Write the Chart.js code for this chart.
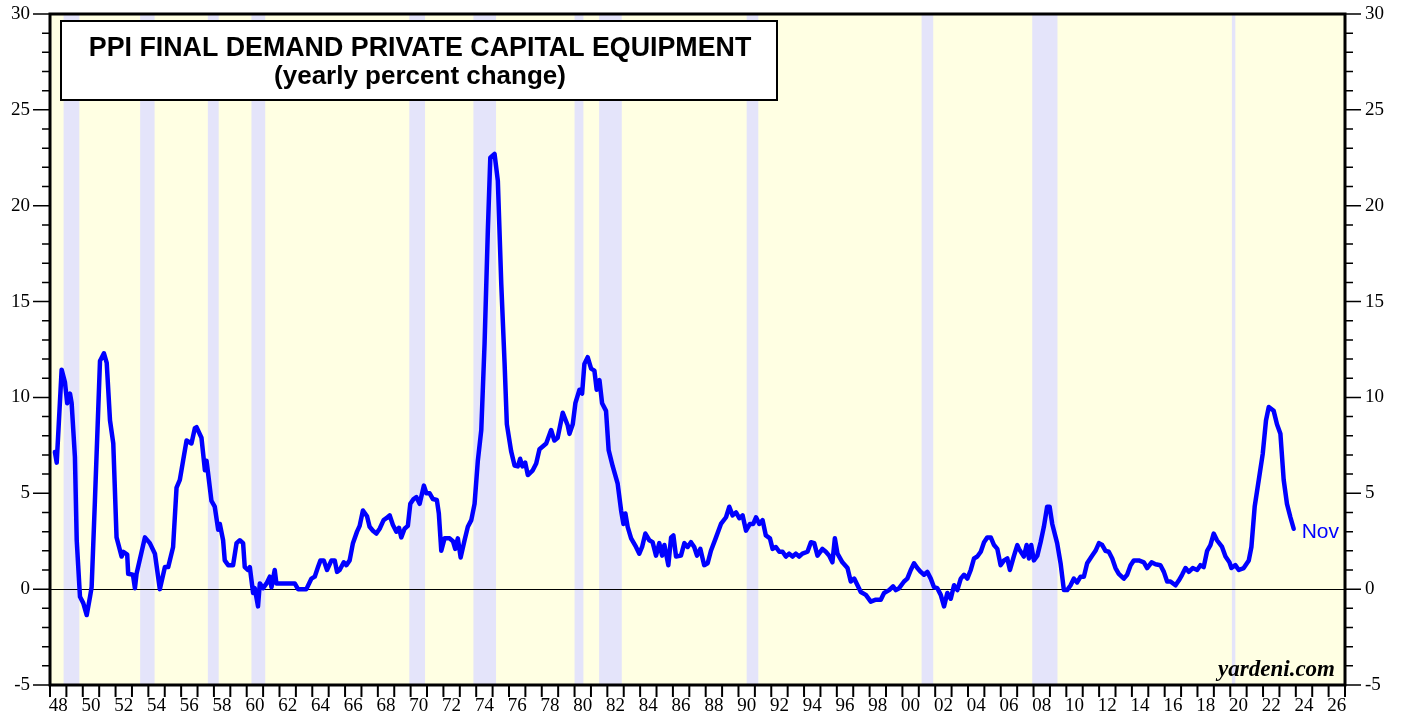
<!DOCTYPE html>
<html>
<head>
<meta charset="utf-8">
<script src="https://cdn.jsdelivr.net/npm/chart.js@4/dist/chart.umd.min.js"></script>
<style>
  html, body { margin: 0; padding: 0; background: #ffffff; }
  #wrap { width: 1405px; height: 717px; position: relative; }
</style>
</head>
<body>
<div id="wrap"><canvas id="c" width="1405" height="717"></canvas></div>
<script>
// ---- Data (decimal year, yearly % change) ----
const dates = [
  1948.30,1948.41,1948.71,1948.91,1949.05,1949.22,1949.32,1949.52,1949.63,1949.83,
  1950.03,1950.24,1950.44,1950.54,1950.74,1951.05,1951.29,1951.46,1951.66,1951.86,
  1952.06,1952.37,1952.47,1952.71,1952.77,1953.06,1953.18,1953.28,1953.79,1954.09,
  1954.40,1954.70,1955.01,1955.21,1955.51,1955.72,1955.92,1956.12,1956.33,1956.63,
  1956.84,1956.94,1957.24,1957.45,1957.55,1957.65,1957.85,1958.05,1958.26,1958.36,
  1958.56,1958.66,1958.87,1959.17,1959.38,1959.58,1959.78,1959.88,1960.08,1960.19,
  1960.39,1960.49,1960.69,1960.80,1961.00,1961.21,1961.41,1961.51,1961.71,1961.81,
  1962.93,1963.13,1963.64,1963.95,1964.15,1964.35,1964.50,1964.70,1964.90,1965.17,
  1965.37,1965.51,1965.67,1965.92,1966.08,1966.28,1966.48,1966.73,1966.89,1967.09,
  1967.34,1967.50,1967.70,1967.91,1968.11,1968.35,1968.52,1968.72,1968.92,1969.13,
  1969.29,1969.43,1969.63,1969.83,1969.98,1970.18,1970.35,1970.55,1970.81,1970.96,
  1971.16,1971.36,1971.60,1971.72,1971.87,1972.07,1972.38,1972.58,1972.72,1972.88,
  1973.05,1973.29,1973.49,1973.70,1973.90,1974.10,1974.31,1974.51,1974.71,1974.86,
  1975.12,1975.32,1975.53,1975.73,1975.87,1976.13,1976.34,1976.54,1976.68,1976.82,
  1976.99,1977.15,1977.45,1977.66,1977.86,1978.27,1978.57,1978.77,1978.97,1979.28,
  1979.58,1979.69,1979.89,1980.05,1980.30,1980.46,1980.60,1980.80,1981.01,1981.21,
  1981.35,1981.52,1981.68,1981.92,1982.08,1982.33,1982.63,1982.84,1982.98,1983.10,
  1983.24,1983.45,1983.75,1983.95,1984.12,1984.32,1984.56,1984.76,1984.97,1985.17,
  1985.34,1985.48,1985.72,1985.89,1986.03,1986.19,1986.49,1986.70,1986.90,1987.10,
  1987.30,1987.47,1987.67,1987.91,1988.12,1988.32,1988.63,1988.93,1989.24,1989.44,
  1989.64,1989.85,1990.05,1990.25,1990.46,1990.70,1990.90,1991.07,1991.27,1991.47,
  1991.67,1991.92,1992.08,1992.28,1992.49,1992.69,1992.89,1993.09,1993.30,1993.50,
  1993.70,1993.90,1994.21,1994.42,1994.62,1994.82,1995.12,1995.33,1995.53,1995.73,
  1995.88,1996.04,1996.34,1996.65,1996.85,1997.06,1997.26,1997.46,1997.77,1998.07,
  1998.38,1998.68,1998.88,1999.19,1999.43,1999.60,1999.80,2000.10,2000.30,2000.51,
  2000.71,2000.91,2001.12,2001.32,2001.52,2001.73,2001.93,2002.13,2002.34,2002.54,
  2002.74,2002.95,2003.15,2003.35,2003.56,2003.76,2003.96,2004.17,2004.37,2004.57,
  2004.78,2004.98,2005.18,2005.39,2005.59,2005.79,2005.99,2006.20,2006.40,2006.56,
  2006.81,2007.01,2007.11,2007.41,2007.58,2007.72,2007.86,2008.02,2008.23,2008.43,
  2008.63,2008.83,2008.98,2009.14,2009.44,2009.65,2009.85,2010.05,2010.26,2010.46,
  2010.66,2010.87,2011.07,2011.27,2011.58,2011.78,2011.99,2012.19,2012.39,2012.59,
  2012.80,2013.00,2013.20,2013.51,2013.71,2013.92,2014.12,2014.42,2014.73,2014.93,
  2015.20,2015.44,2015.74,2015.95,2016.15,2016.35,2016.66,2016.86,2017.06,2017.27,
  2017.47,2017.71,2017.98,2018.18,2018.38,2018.59,2018.79,2018.99,2019.19,2019.50,
  2019.71,2019.95,2020.07,2020.31,2020.52,2020.82,2021.13,2021.29,2021.49,2021.74,
  2021.98,2022.18,2022.35,2022.65,2022.85,2023.06,2023.26,2023.46,2023.67,2023.87
];
const values = [
  7.15,6.6,11.45,10.8,9.7,10.2,9.7,6.9,2.55,-0.4,
  -0.73,-1.35,-0.4,0.1,4.6,11.9,12.3,11.8,8.8,7.6,
  2.7,1.7,1.95,1.8,0.8,0.75,0.05,0.8,2.7,2.4,
  1.85,0.0,1.15,1.15,2.2,5.3,5.7,6.7,7.75,7.6,
  8.4,8.45,7.9,6.2,6.7,6.0,4.6,4.3,3.1,3.4,
  2.55,1.5,1.25,1.25,2.4,2.55,2.4,1.15,1.0,1.15,
  -0.2,0.05,-0.9,0.3,0.05,0.3,0.65,0.1,1.0,0.3,
  0.3,0.0,0.0,0.55,0.65,1.15,1.5,1.5,1.0,1.5,
  1.5,0.9,1.0,1.4,1.25,1.5,2.4,3.0,3.3,4.1,
  3.8,3.25,3.05,2.9,3.15,3.6,3.7,3.85,3.35,3.0,
  3.2,2.7,3.15,3.3,4.45,4.7,4.8,4.45,5.4,5.0,
  5.0,4.7,4.65,3.95,2.0,2.65,2.65,2.5,2.1,2.65,
  1.65,2.55,3.25,3.6,4.45,6.7,8.3,12.8,18.7,22.5,
  22.7,21.3,15.9,11.8,8.6,7.2,6.45,6.4,6.8,6.4,
  6.6,5.95,6.2,6.55,7.3,7.6,8.3,7.75,7.9,9.2,
  8.55,8.1,8.6,9.7,10.4,10.2,11.75,12.1,11.5,11.4,
  10.4,10.9,9.7,9.3,7.25,6.4,5.5,4.1,3.4,3.95,
  3.25,2.65,2.2,1.85,2.2,2.9,2.55,2.45,1.75,2.4,
  1.75,2.3,1.25,2.7,2.8,1.7,1.75,2.4,2.2,2.45,
  2.2,1.75,2.1,1.25,1.35,2.0,2.7,3.4,3.75,4.3,
  3.85,4.0,3.7,3.85,3.05,3.4,3.4,3.75,3.4,3.6,
  2.8,2.65,2.1,2.2,1.95,1.95,1.7,1.85,1.7,1.85,
  1.7,1.85,1.95,2.45,2.4,1.75,2.1,1.95,1.75,1.4,
  2.65,1.85,1.4,1.1,0.4,0.55,0.2,-0.15,-0.3,-0.65,
  -0.55,-0.55,-0.2,-0.05,0.15,-0.05,0.05,0.4,0.55,1.0,
  1.35,1.1,0.9,0.75,0.9,0.55,0.1,0.05,-0.3,-0.9,
  -0.2,-0.5,0.2,-0.05,0.55,0.75,0.55,1.0,1.6,1.7,
  1.95,2.45,2.7,2.7,2.3,2.1,1.25,1.5,1.6,1.0,
  1.75,2.3,2.1,1.7,2.3,1.6,2.3,1.5,1.75,2.45,
  3.25,4.3,4.3,3.4,2.4,1.35,-0.05,-0.05,0.2,0.55,
  0.35,0.65,0.65,1.35,1.75,2.0,2.4,2.3,2.0,1.95,
  1.6,1.1,0.8,0.55,0.75,1.25,1.5,1.5,1.4,1.1,
  1.4,1.3,1.25,0.9,0.4,0.4,0.2,0.45,0.75,1.1,
  0.9,1.1,1.0,1.25,1.15,2.0,2.3,2.9,2.55,2.2,
  1.7,1.4,1.1,1.25,1.0,1.1,1.5,2.2,4.3,5.7,
  7.05,8.8,9.5,9.3,8.6,8.1,5.7,4.45,3.75,3.15
];
const lastLabel = 'Nov';

// Recession periods (start, end) in decimal years
const recessionStarts = [1948.83,1953.50,1957.63,1960.29,1969.92,1973.83,1980.00,1981.50,1990.50,2001.17,2007.92,2020.10];
const recessionEnds   = [1949.79,1954.38,1958.29,1961.13,1970.88,1975.21,1980.54,1982.88,1991.21,2001.88,2009.46,2020.31];

// Axis ticks
const xTickYears  = [1948,1950,1952,1954,1956,1958,1960,1962,1964,1966,1968,1970,1972,1974,1976,1978,1980,1982,1984,1986,1988,1990,1992,1994,1996,1998,2000,2002,2004,2006,2008,2010,2012,2014,2016,2018,2020,2022,2024,2026];
const xTickLabels = ['48','50','52','54','56','58','60','62','64','66','68','70','72','74','76','78','80','82','84','86','88','90','92','94','96','98','00','02','04','06','08','10','12','14','16','18','20','22','24','26'];
const yTickValues = [-5,0,5,10,15,20,25,30];

const X_MIN = 1948, X_MAX = 2027, Y_MIN = -5, Y_MAX = 30;

const titleLines = ['PPI FINAL DEMAND PRIVATE CAPITAL EQUIPMENT', '(yearly percent change)'];
const sourceText = 'yardeni.com';

const points = dates.map((d, i) => ({ x: d, y: values[i] }));

const decorPlugin = {
  id: 'decor',
  beforeDraw(chart) {
    const ctx = chart.ctx, a = chart.chartArea, xs = chart.scales.x;
    ctx.save();
    ctx.fillStyle = '#ffffff';
    ctx.fillRect(0, 0, chart.width, chart.height);
    ctx.fillStyle = '#ffffe3';
    ctx.fillRect(a.left, a.top, a.right - a.left, a.bottom - a.top);
    ctx.fillStyle = '#e4e4fa';
    for (let i = 0; i < recessionStarts.length; i++) {
      const x1 = xs.getPixelForValue(recessionStarts[i]);
      const x2 = xs.getPixelForValue(recessionEnds[i]);
      ctx.fillRect(x1, a.top, x2 - x1, a.bottom - a.top);
    }
    ctx.restore();
  },
  beforeDatasetsDraw(chart) {
    const ctx = chart.ctx, a = chart.chartArea, ys = chart.scales.y;
    const y0 = Math.round(ys.getPixelForValue(0)) + 0.5;
    ctx.save();
    ctx.strokeStyle = '#000000';
    ctx.lineWidth = 1.2;
    ctx.beginPath();
    ctx.moveTo(a.left, y0);
    ctx.lineTo(a.right, y0);
    ctx.stroke();
    ctx.restore();
  },
  afterDraw(chart) {
    const ctx = chart.ctx, a = chart.chartArea, xs = chart.scales.x, ys = chart.scales.y;
    ctx.save();
    ctx.strokeStyle = '#000000';
    ctx.lineWidth = 1.5;
    for (let v = Y_MIN; v <= Y_MAX; v++) {
      const y = ys.getPixelForValue(v);
      const major = (v % 5 === 0);
      const lenL = major ? 17 : 8;
      const lenR = major ? 16 : 8;
      ctx.beginPath();
      ctx.moveTo(a.left - lenL, y); ctx.lineTo(a.left, y);
      ctx.moveTo(a.right, y); ctx.lineTo(a.right + lenR, y);
      ctx.stroke();
    }
    ctx.lineWidth = 2;
    for (let yr = X_MIN; yr <= X_MAX; yr++) {
      const x = xs.getPixelForValue(yr);
      ctx.beginPath();
      ctx.moveTo(x, a.bottom); ctx.lineTo(x, a.bottom + 12);
      ctx.stroke();
    }
    ctx.lineWidth = 3;
    ctx.strokeRect(a.left, a.top, a.right - a.left, a.bottom - a.top);

    // title box
    ctx.fillStyle = '#ffffff';
    ctx.fillRect(60, 20, 717, 80);
    ctx.lineWidth = 2;
    ctx.strokeRect(61, 21, 716, 79);
    ctx.fillStyle = '#000000';
    ctx.textAlign = 'center';
    ctx.textBaseline = 'alphabetic';
    ctx.font = 'bold 26.8px "Liberation Sans", Arial, sans-serif';
    ctx.fillText(titleLines[0], 420, 56);
    ctx.font = 'bold 26px "Liberation Sans", Arial, sans-serif';
    ctx.fillText(titleLines[1], 420, 84);

    // source
    ctx.textAlign = 'right';
    ctx.font = 'bold italic 23px "Liberation Serif", "Times New Roman", serif';
    ctx.fillText(sourceText, 1335, 676);

    // last value label
    const meta = chart.getDatasetMeta(0);
    const last = meta.data[meta.data.length - 1];
    ctx.textAlign = 'left';
    ctx.fillStyle = '#0000ff';
    ctx.font = '21px "Liberation Sans", Arial, sans-serif';
    ctx.fillText(lastLabel, last.x + 8, last.y + 9);
    ctx.restore();
  }
};

const tickFont = { family: '"Liberation Serif", "Times New Roman", serif', size: 19 };

function fixY(width) {
  return function (scale) { scale.width = width; scale.paddingTop = 0; scale.paddingBottom = 0; };
}

new Chart(document.getElementById('c'), {
  type: 'line',
  data: {
    datasets: [{
      data: points,
      borderColor: '#0000ff',
      borderWidth: 4.5,
      pointRadius: 0,
      tension: 0,
      fill: false,
      borderJoinStyle: 'round',
      borderCapStyle: 'round'
    }]
  },
  options: {
    responsive: false,
    animation: false,
    devicePixelRatio: 1,
    layout: { padding: { top: 14, left: 0, right: 0, bottom: 0 } },
    plugins: { legend: { display: false }, tooltip: { enabled: false }, title: { display: false } },
    scales: {
      x: {
        type: 'linear',
        min: X_MIN, max: X_MAX,
        grid: { display: true, drawOnChartArea: false, drawTicks: false, color: 'rgba(0,0,0,0)' },
        border: { display: false },
        afterBuildTicks(scale) { scale.ticks = xTickYears.map(y => ({ value: y + 0.5 })); },
        afterFit(scale) { scale.height = 32; scale.paddingLeft = 0; scale.paddingRight = 0; },
        ticks: {
          autoSkip: false, maxRotation: 0, minRotation: 0, padding: 10,
          color: '#000000', font: tickFont,
          callback: (v, i) => xTickLabels[i]
        }
      },
      y: {
        position: 'left',
        min: Y_MIN, max: Y_MAX,
        grid: { display: true, drawOnChartArea: false, drawTicks: false, color: 'rgba(0,0,0,0)' },
        border: { display: false },
        afterBuildTicks(scale) { scale.ticks = yTickValues.map(v => ({ value: v })); },
        afterFit: fixY(50),
        ticks: { padding: 20, color: '#000000', font: tickFont, callback: v => String(v) }
      },
      y2: {
        position: 'right',
        min: Y_MIN, max: Y_MAX,
        grid: { display: true, drawOnChartArea: false, drawTicks: false, color: 'rgba(0,0,0,0)' },
        border: { display: false },
        afterBuildTicks(scale) { scale.ticks = yTickValues.map(v => ({ value: v })); },
        afterFit: fixY(60),
        ticks: { padding: 20, color: '#000000', font: tickFont, callback: v => String(v) }
      }
    }
  },
  plugins: [decorPlugin]
});
</script>
</body>
</html>
